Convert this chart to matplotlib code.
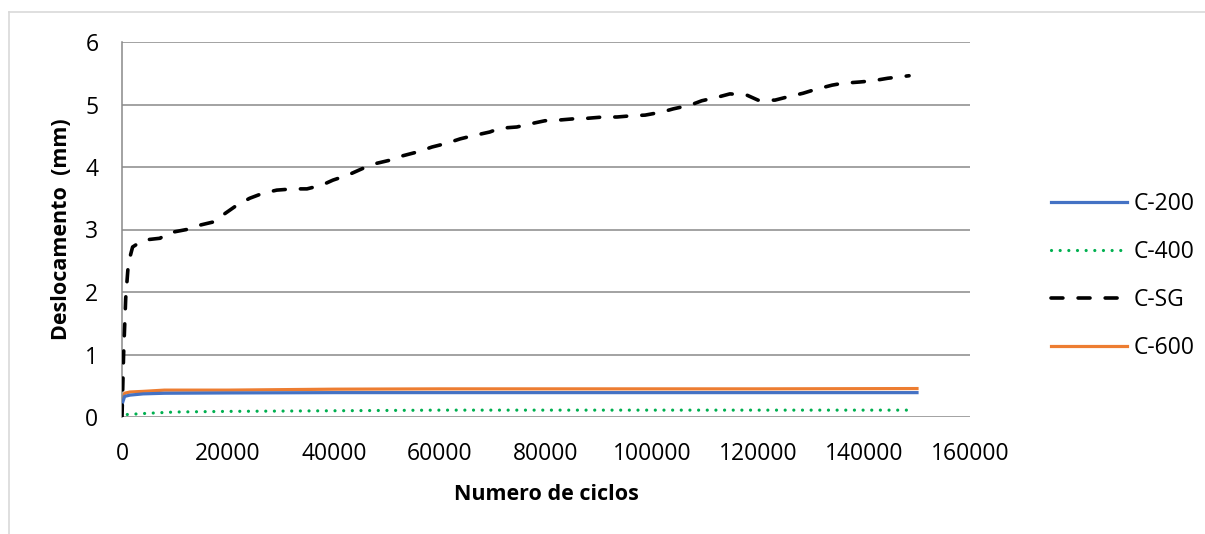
import matplotlib.pyplot as plt
from matplotlib.lines import Line2D

plt.rcParams['font.family'] = ['Open Sans', 'DejaVu Sans']

# Deslocamento medido ao longo dos ciclos (mm)
ciclos_sg = [0, 300, 700, 1200, 2000, 4000, 7200, 8500, 12200, 14700, 17200, 19000,
             21700, 24100, 26600, 29200, 32300, 34900, 37700, 39800, 42600, 45500,
             48100, 50600, 53000, 55700, 58500, 61300, 63800, 66200, 69400, 71300,
             74500, 77000, 79800, 82300, 85100, 87900, 90800, 93400, 96200, 98700,
             101900, 104000, 107200, 109400, 112500, 114700, 117900, 120000, 123200,
             125500, 128500, 130800, 134000, 136000, 139200, 141700, 144500, 148500]
desl_sg = [0.0, 1.0, 1.9, 2.46, 2.72, 2.83, 2.86, 2.94, 3.0, 3.07, 3.12, 3.23,
           3.39, 3.5, 3.58, 3.63, 3.65, 3.65, 3.71, 3.79, 3.87, 3.98,
           4.06, 4.11, 4.18, 4.24, 4.32, 4.38, 4.45, 4.5, 4.56, 4.62,
           4.64, 4.69, 4.74, 4.75, 4.77, 4.78, 4.8, 4.8, 4.82, 4.83,
           4.88, 4.93, 4.99, 5.06, 5.12, 5.17, 5.15, 5.07, 5.07,
           5.12, 5.18, 5.24, 5.31, 5.34, 5.36, 5.38, 5.42, 5.46]

ciclos_200 = [0, 500, 1500, 4000, 8000, 20000, 40000, 60000, 80000, 100000, 120000, 150000]
desl_200 = [0.2, 0.33, 0.35, 0.37, 0.38, 0.385, 0.39, 0.39, 0.39, 0.39, 0.39, 0.39]

ciclos_600 = [0, 500, 1500, 4000, 8000, 20000, 40000, 60000, 80000, 100000, 120000, 150000]
desl_600 = [0.27, 0.38, 0.40, 0.41, 0.43, 0.43, 0.445, 0.45, 0.45, 0.45, 0.45, 0.455]

ciclos_400 = [1000, 5000, 10000, 20000, 40000, 60000, 80000, 100000, 120000, 148500]
desl_400 = [0.04, 0.06, 0.08, 0.09, 0.1, 0.11, 0.11, 0.11, 0.11, 0.11]

W, H = 1205, 534
fs = 16.5
fig = plt.figure(figsize=(W / 100, H / 100), dpi=100)
ax = fig.add_axes([122 / W, 1 - 417 / H, 848 / W, 375 / H])

grid_c = '#898989'
ax.plot(ciclos_200, desl_200, color='#4472C4', lw=2.3, label='C-200', zorder=3)
ax.plot(ciclos_400, desl_400, color='#00B050', lw=2.3, linestyle=(0, (0.01, 2.7)),
        dash_capstyle='round', label='C-400', zorder=3)
ax.plot(ciclos_sg, desl_sg, color='black', lw=2.6, linestyle=(0, (3.3, 4.2)),
        dash_capstyle='round', label='C-SG', zorder=4)
ax.plot(ciclos_600, desl_600, color='#ED7D31', lw=2.3, label='C-600', zorder=2)

ax.set_xlim(0, 160000)
ax.set_ylim(0, 6)
ax.set_xticks(range(0, 160001, 20000))
ax.set_yticks(range(0, 7))
ax.grid(axis='y', color=grid_c, lw=1.1)
ax.set_axisbelow(True)
for s in ['top', 'right', 'bottom']:
    ax.spines[s].set_visible(False)
ax.spines['left'].set_color(grid_c)
ax.spines['left'].set_linewidth(1.1)
ax.tick_params(axis='both', length=0, labelsize=fs)
ax.tick_params(axis='x', pad=18)
ax.tick_params(axis='y', pad=17)

ax.set_ylabel('Deslocamento  (mm)', fontsize=15.5, fontweight='bold')
ax.set_xlabel('Numero de ciclos', fontsize=15.5, fontweight='bold')
ax.yaxis.set_label_coords(-0.071, 0.5)
ax.xaxis.set_label_coords(0.5, -0.208)
ax.xaxis.label.set_va('center')
ax.yaxis.label.set_va('center')

fig.legend(loc='center left', bbox_to_anchor=(1040 / W, 1 - 276 / H), frameon=False,
           fontsize=fs, handlelength=3.3, handletextpad=0.3, labelspacing=1.05,
           borderpad=0)

# moldura do grafico
bc = '#d9d9d9'
fig.add_artist(Line2D([9 / W, 1.01], [1 - 12 / H, 1 - 12 / H], color=bc, lw=1.2,
                      transform=fig.transFigure))
fig.add_artist(Line2D([9 / W, 9 / W], [1 - 12 / H, -0.01], color=bc, lw=1.2,
                      transform=fig.transFigure))

fig.savefig('out.png', dpi=100)
